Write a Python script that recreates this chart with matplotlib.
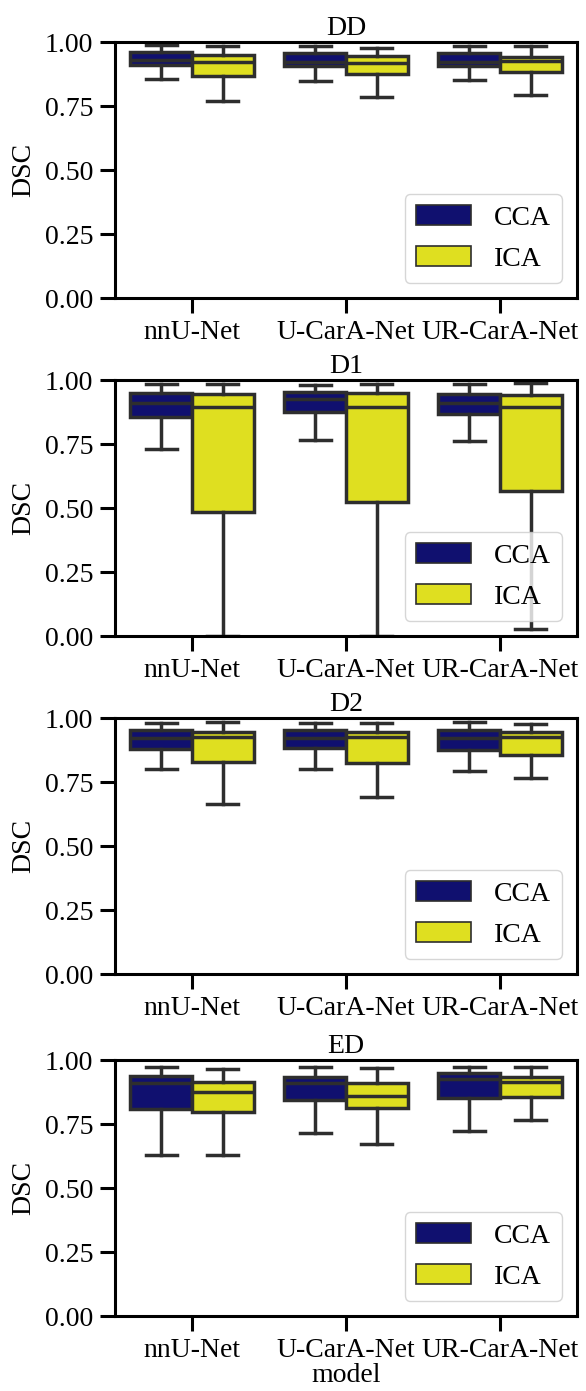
import matplotlib
matplotlib.use("Agg")
import matplotlib.pyplot as plt
from matplotlib.patches import Patch

plt.rcParams['font.family'] = ['Liberation Serif', 'DejaVu Serif']

models = ["nnU-Net", "U-CarA-Net", "UR-CarA-Net"]
vessels = ["CCA", "ICA"]
panels = ["DD", "D1", "D2", "ED"]

# per panel, per model: [whislo, q1, median, q3, whishi]
DD_CCA = [[0.854, 0.910, 0.930, 0.961, 0.988],
          [0.848, 0.908, 0.923, 0.956, 0.986],
          [0.852, 0.908, 0.923, 0.956, 0.986]]
DD_ICA = [[0.771, 0.867, 0.923, 0.949, 0.986],
          [0.784, 0.874, 0.919, 0.947, 0.975],
          [0.793, 0.882, 0.927, 0.943, 0.986]]
D1_CCA = [[0.729, 0.857, 0.912, 0.948, 0.984],
          [0.764, 0.874, 0.925, 0.952, 0.980],
          [0.762, 0.867, 0.911, 0.945, 0.984]]
D1_ICA = [[0.000, 0.485, 0.896, 0.945, 0.984],
          [0.000, 0.525, 0.896, 0.948, 0.984],
          [0.026, 0.568, 0.896, 0.941, 0.990]]
D2_CCA = [[0.800, 0.878, 0.920, 0.953, 0.982],
          [0.800, 0.882, 0.920, 0.953, 0.979],
          [0.793, 0.875, 0.920, 0.953, 0.983]]
D2_ICA = [[0.663, 0.829, 0.925, 0.944, 0.986],
          [0.693, 0.823, 0.925, 0.944, 0.979],
          [0.764, 0.855, 0.925, 0.944, 0.977]]
ED_CCA = [[0.629, 0.807, 0.909, 0.937, 0.971],
          [0.714, 0.844, 0.909, 0.935, 0.971],
          [0.724, 0.850, 0.925, 0.950, 0.974]]
ED_ICA = [[0.629, 0.798, 0.874, 0.915, 0.964],
          [0.672, 0.811, 0.859, 0.911, 0.967],
          [0.766, 0.854, 0.915, 0.932, 0.971]]

data = {"DD": (DD_CCA, DD_ICA), "D1": (D1_CCA, D1_ICA),
        "D2": (D2_CCA, D2_ICA), "ED": (ED_CCA, ED_ICA)}

colors = ["#10106f", "#dfdf20"]
edge = "#2e2e2e"
lw = 2.5
fs = 20

W, H = 586, 1391
fig = plt.figure(figsize=(W / 100, H / 100), dpi=100)
left, right = 115, 577
tops = [42, 380, 718, 1060]
ah = 256

for pi, (name, top) in enumerate(zip(panels, tops)):
    ax = fig.add_axes([left / W, (H - top - ah) / H, (right - left) / W, ah / H])
    for vi, series in enumerate(data[name]):
        stats = []
        for vals in series:
            lo, q1, med, q3, hi = vals
            stats.append(dict(whislo=lo, q1=q1, med=med, q3=q3, whishi=hi, fliers=[]))
        pos = [i + (-0.2 if vi == 0 else 0.2) for i in range(len(models))]
        ax.bxp(stats, positions=pos, widths=0.4, capwidths=0.2, patch_artist=True,
               showfliers=False,
               boxprops=dict(facecolor=colors[vi], edgecolor=edge, linewidth=lw),
               medianprops=dict(color=edge, linewidth=lw),
               whiskerprops=dict(color=edge, linewidth=lw),
               capprops=dict(color=edge, linewidth=lw))
    ax.set_xlim(-0.5, 2.5)
    ax.set_ylim(0, 1)
    ax.set_yticks([0, 0.25, 0.5, 0.75, 1.0])
    ax.set_yticklabels(["0.00", "0.25", "0.50", "0.75", "1.00"])
    ax.set_xticks(range(len(models)))
    ax.set_xticklabels(models)
    ax.tick_params(axis='both', labelsize=fs, length=10.8, width=2.2, pad=5)
    for sp in ax.spines.values():
        sp.set_linewidth(2.2)
    ax.set_title(name, fontsize=fs, pad=5)
    ax.set_ylabel("DSC", fontsize=fs, labelpad=6)
    if pi == len(panels) - 1:
        ax.set_xlabel("model", fontsize=fs, labelpad=0)
    handles = [Patch(facecolor=colors[0], edgecolor=edge, linewidth=1.2, label="CCA"),
               Patch(facecolor=colors[1], edgecolor=edge, linewidth=1.2, label="ICA")]
    ax.legend(handles=handles, loc="lower right", fontsize=fs, borderaxespad=0.55,
              labelspacing=0.55)

fig.savefig("out.png", dpi=100)
